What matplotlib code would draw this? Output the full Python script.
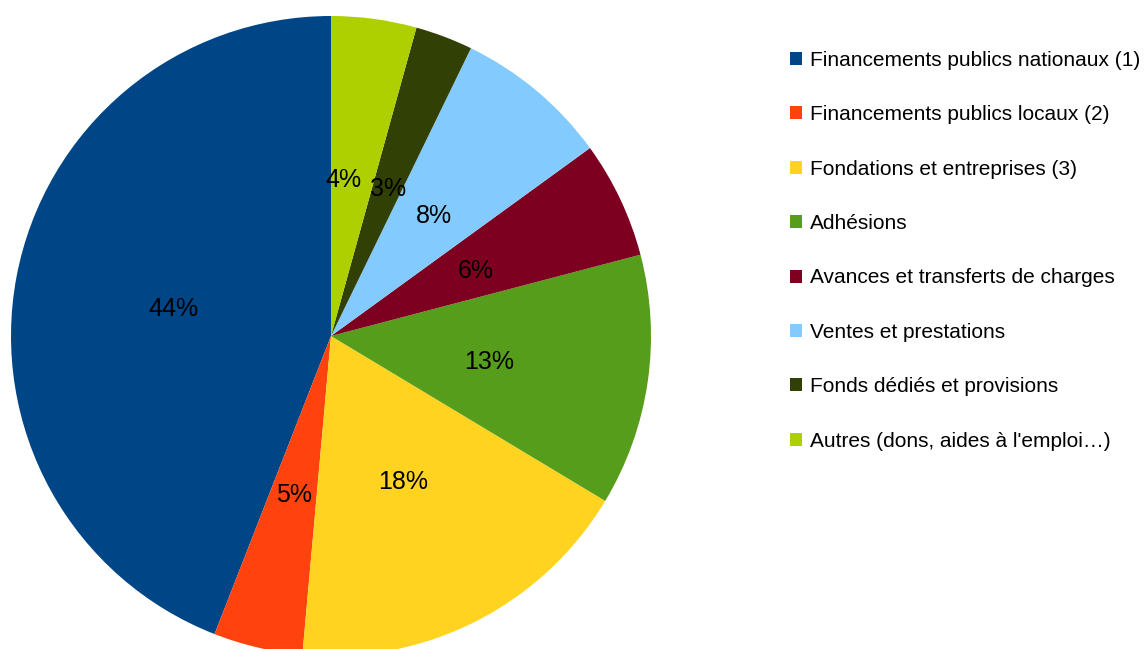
import matplotlib
matplotlib.use("Agg")
import matplotlib.pyplot as plt
import matplotlib.transforms as mtransforms
from matplotlib.patches import Patch

plt.rcParams['font.family'] = ['Liberation Sans', 'DejaVu Sans']

categories = [
    "Financements publics nationaux (1)",
    "Financements publics locaux (2)",
    "Fondations et entreprises (3)",
    "Adhésions",
    "Avances et transferts de charges",
    "Ventes et prestations",
    "Fonds dédiés et provisions",
    "Autres (dons, aides à l'emploi…)",
]
values = [44.05, 4.5, 17.8, 12.7, 5.9, 7.8, 2.9, 4.3]
colors = ["#004586", "#ff420e", "#ffd320", "#579d1c", "#7e0021", "#83caff", "#314004", "#aecf00"]

W, H = 1146, 649
fig = plt.figure(figsize=(W / 100, H / 100), dpi=100)
cx, cy, r = 331, 336, 320
ax = fig.add_axes([(cx - r) / W, (H - cy - r) / H, 2 * r / W, 2 * r / H])
wedges, texts, autotexts = ax.pie(
    values, colors=colors, startangle=90, counterclock=True,
    autopct=lambda p: f"{p:.0f}%", pctdistance=0.5, radius=1.0,
    textprops=dict(fontsize=18, color="black"),
    wedgeprops=dict(linewidth=0),
)
# small nudge so labels sit like the original renderer (last small slice label pushed left)
for i, t in enumerate(autotexts):
    dx = -9 if i == len(autotexts) - 1 else 0
    t.set_transform(mtransforms.offset_copy(t.get_transform(), fig=fig,
                                            x=dx, y=-3, units='dots'))
ax.set_xlim(-1, 1)
ax.set_ylim(-1, 1)
ax.set_aspect('auto')
ax.axis('off')

handles = [Patch(facecolor=c, edgecolor='none') for c in colors]
leg = fig.legend(handles, categories, loc='upper left',
                 bbox_to_anchor=(771 / W, 1 - 32 / H), frameon=False,
                 fontsize=15, handlelength=0.58, handleheight=0.58,
                 handletextpad=0.38, labelspacing=1.70)
fig.savefig("out.png", dpi=100)
